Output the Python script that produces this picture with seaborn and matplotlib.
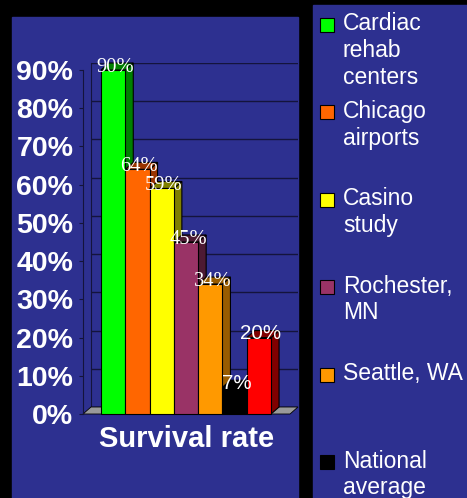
import matplotlib.pyplot as plt
import matplotlib.patches as mpatches
import seaborn as sns

# data
categories = ['Cardiac\nrehab\ncenters', 'Chicago\nairports', 'Casino\nstudy',
              'Rochester,\nMN', 'Seattle, WA', 'National\naverage', 'Other']
survival = [0.90, 0.64, 0.59, 0.45, 0.34, 0.07, 0.20]
front_colors = ['#00ff00', '#ff6600', '#ffff00', '#993366', '#ff9900', '#000000', '#ff0000']
side_colors = ['#008000', '#993300', '#808000', '#4d1a33', '#995c00', '#000000', '#800000']
serif_label = [True, True, True, True, True, False, False]
yticks = [0.0, 0.1, 0.2, 0.3, 0.4, 0.5, 0.6, 0.7, 0.8, 0.9]
ytick_labels = ['0%', '10%', '20%', '30%', '40%', '50%', '60%', '70%', '80%', '90%']

W, H = 467, 498
BLUE = '#2d3090'
GRID = '#14143c'
SANS = 'Liberation Sans'
SERIF = 'Liberation Serif'

fig = plt.figure(figsize=(W / 100, H / 100), dpi=100, facecolor='black')
fig.add_artist(mpatches.Rectangle((12 / W, 0), 286 / W, 481 / H, transform=fig.transFigure,
                                  color=BLUE, zorder=-5))
fig.add_artist(mpatches.Rectangle((313 / W, 0), 154 / W, 493 / H, transform=fig.transFigure,
                                  color=BLUE, zorder=-5))

# back wall with the gridlines, shifted by the 3D depth
DX_PX, DY_PX = 8, 7
wall = fig.add_axes([(83 + DX_PX) / W, (84 + DY_PX) / H, 207 / W, 344 / H], zorder=0)
wall.set_facecolor('none')
wall.set_ylim(0, 0.9)
wall.set_yticks(yticks)
wall.set_xticks([])
wall.tick_params(left=False, labelleft=False)
wall.grid(axis='y', color=GRID, lw=1.0)
for s in ['top', 'right', 'bottom']:
    wall.spines[s].set_visible(False)
wall.spines['left'].set_color(GRID)

# front plane with the bars
ax = fig.add_axes([83 / W, 84 / H, 207 / W, 344 / H], zorder=1)
ax.set_facecolor('none')
sns.barplot(x=categories, y=survival, hue=categories, palette=front_colors, width=1,
            saturation=1, edgecolor='black', linewidth=0.8, legend=False, ax=ax)
ax.set_xlim(-1.24, 7.28)
ax.set_ylim(0, 0.9)

xmin, xmax = ax.get_xlim()
dx = DX_PX / 207 * (xmax - xmin)
dy = DY_PX / 344 * 0.9

bars = sorted([p for p in ax.patches if isinstance(p, mpatches.Rectangle)], key=lambda p: p.get_x())

# floor
ax.add_patch(mpatches.Polygon([(0, 0), (1, 0), (1 + DX_PX / 207, DY_PX / 344), (DX_PX / 207, DY_PX / 344)],
                              closed=True, transform=ax.transAxes, facecolor='#9a9a9a',
                              edgecolor='black', lw=0.6, zorder=2, clip_on=False))

# side and top faces built from each bar's own geometry
for i, p in enumerate(bars):
    x0, w, h = p.get_x(), p.get_width(), p.get_height()
    x1 = x0 + w
    z = 3 + i * 0.1
    p.set_zorder(z + 0.05)
    p.set_clip_on(False)
    ax.add_patch(mpatches.Polygon([(x1, 0), (x1 + dx, dy), (x1 + dx, h + dy), (x1, h)],
                                  closed=True, facecolor=side_colors[i], edgecolor='black',
                                  lw=0.8, zorder=z, clip_on=False))
    ax.add_patch(mpatches.Polygon([(x0, h), (x0 + dx, h + dy), (x1 + dx, h + dy), (x1, h)],
                                  closed=True, facecolor=side_colors[i], edgecolor='black',
                                  lw=0.8, zorder=z, clip_on=False))
    ax.text(x0 + w / 2 + 0.08, h - 0.005, f'{round(survival[i] * 100)}%', ha='center',
            va='baseline', color='white', fontsize=14.8,
            family=SERIF if serif_label[i] else SANS, zorder=10)

ax.set_xticks([])
ax.set_yticks(yticks)
ax.set_yticklabels(ytick_labels, fontweight='bold', family=SANS)
ax.tick_params(axis='y', length=3, color=GRID, labelcolor='white', labelsize=20.5, pad=4)
for s in ['top', 'right', 'bottom']:
    ax.spines[s].set_visible(False)
ax.spines['left'].set_color(GRID)
ax.set_xlabel('Survival rate', color='white', fontsize=21, fontweight='bold', family=SANS, labelpad=8)
ax.set_ylabel('')

# legend panel (runs off the bottom of the slide, like the original)
STEP = 87.4
for i, (lab, col) in enumerate(zip(categories, front_colors)):
    cy = 25 + i * STEP
    fig.add_artist(mpatches.Rectangle((320 / W, 1 - (cy + 7) / H), 14 / W, 14 / H,
                                      transform=fig.transFigure, facecolor=col,
                                      edgecolor='black', lw=0.8))
    fig.text(343 / W, 1 - (cy - 12.5) / H, lab, va='top', ha='left', color='white',
             fontsize=16.5, family=SANS)

fig.savefig('out.png', dpi=100, facecolor=fig.get_facecolor())
